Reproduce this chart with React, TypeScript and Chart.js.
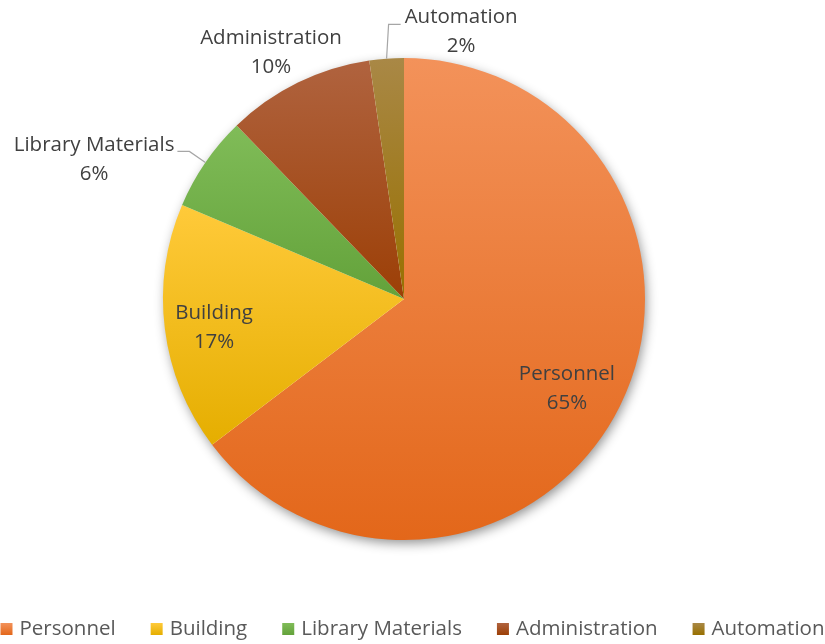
import React, { useEffect, useRef } from "react";
import { Chart, registerables } from "chart.js";

Chart.register(...registerables);

const categories = ["Personnel", "Building", "Library Materials", "Administration", "Automation"];
const values = [64.6, 16.7, 6.4, 9.9, 2.3];
const topColors = ["#F3925A", "#FFCA3A", "#80BC58", "#B0633F", "#A98846"];
const bottomColors = ["#E3671A", "#E5AE00", "#63A23A", "#9C3F06", "#987000"];
const baseColors = ["#ED7D31", "#FFC000", "#70AD47", "#9E480E", "#997300"];

// label placement, in units of the pie radius relative to its center
const labelOffsets: [number, number][] = [
  [0.676, 0.373],
  [-0.788, 0.12],
  [-1.286, -0.577],
  [-0.552, -1.021],
  [0.237, -1.108],
];
const leaderLines = ["none", "none", "side", "none", "up"];

const FONT = "'Open Sans', 'Liberation Sans', Arial, sans-serif";
const LABEL_SIZE = 20.5;
const LEGEND_SIZE = 20.5;

export default function App() {
  const ref = useRef<HTMLCanvasElement>(null);
  useEffect(() => {
    document.body.style.margin = "0";
    const canvas = ref.current!;
    const total = values.reduce((a, b) => a + b, 0);

    const sliceBounds = (i: number, cx: number, cy: number, r: number) => {
      let start = -Math.PI / 2;
      for (let k = 0; k < i; k++) start += (values[k] / total) * Math.PI * 2;
      const end = start + (values[i] / total) * Math.PI * 2;
      const ys = [cy, cy + r * Math.sin(start), cy + r * Math.sin(end)];
      for (let a = -Math.PI / 2; a < Math.PI * 4; a += Math.PI / 2) {
        if (a >= start && a <= end) ys.push(cy + r * Math.sin(a));
      }
      return { top: Math.min(...ys), bottom: Math.max(...ys), mid: (start + end) / 2 };
    };

    const geo = (chart: any) => {
      const meta = chart.getDatasetMeta(0);
      const arc = meta.data[0] as any;
      return { cx: arc.x, cy: arc.y, r: arc.outerRadius };
    };

    const shadowPlugin = {
      id: "shadow",
      beforeDatasetsDraw(chart: any) {
        const { cx, cy, r } = geo(chart);
        const ctx = chart.ctx;
        ctx.save();
        ctx.shadowColor = "rgba(0,0,0,0.45)";
        ctx.shadowBlur = 12;
        ctx.shadowOffsetX = 2;
        ctx.shadowOffsetY = 4;
        ctx.fillStyle = "#ffffff";
        ctx.beginPath();
        ctx.arc(cx, cy, r - 1, 0, Math.PI * 2);
        ctx.fill();
        ctx.restore();
      },
    };

    const labelPlugin = {
      id: "labels",
      afterDraw(chart: any) {
        const { cx, cy, r } = geo(chart);
        const ctx = chart.ctx;
        ctx.save();
        ctx.font = `${LABEL_SIZE}px ${FONT}`;
        ctx.textAlign = "center";
        ctx.textBaseline = "middle";
        const lh = 29;
        categories.forEach((name, i) => {
          const lx = cx + labelOffsets[i][0] * r;
          const ly = cy + labelOffsets[i][1] * r;
          const pct = Math.round((values[i] / total) * 100) + "%";
          ctx.fillStyle = "#404040";
          ctx.fillText(name, lx, ly - lh / 2);
          ctx.fillText(pct, lx, ly + lh / 2);
          if (leaderLines[i] !== "none") {
            const b = sliceBounds(i, cx, cy, r);
            const ex = cx + r * Math.cos(b.mid);
            const ey = cy + r * Math.sin(b.mid);
            const w = ctx.measureText(name).width;
            ctx.strokeStyle = "#A6A6A6";
            ctx.lineWidth = 1.2;
            ctx.beginPath();
            if (leaderLines[i] === "up") {
              const lineY = ly - lh / 2 + 7;
              const sx = lx - w / 2 - 4;
              ctx.moveTo(ex, ey);
              ctx.lineTo(ex + 2, lineY);
              ctx.lineTo(sx, lineY);
            } else {
              const lineY = ly - lh / 2 + 6;
              const sx = lx + w / 2 + 3;
              ctx.moveTo(sx, lineY);
              ctx.lineTo(sx + 12, lineY);
              ctx.lineTo(ex, ey);
            }
            ctx.stroke();
          }
        });

        // legend
        ctx.font = `${LEGEND_SIZE}px ${FONT}`;
        ctx.textAlign = "left";
        const box = 12;
        const gapBox = 7;
        const spacing = 35;
        const widths = categories.map((c) => box + gapBox + ctx.measureText(c).width);
        const totalW = widths.reduce((a, b) => a + b, 0) + spacing * (categories.length - 1);
        let x = chart.width / 2 - totalW / 2;
        const y = 629;
        categories.forEach((c, i) => {
          const g = ctx.createLinearGradient(0, y - box / 2, 0, y + box / 2);
          g.addColorStop(0, topColors[i]);
          g.addColorStop(1, bottomColors[i]);
          ctx.fillStyle = g;
          ctx.fillRect(x, y - box / 2, box, box);
          ctx.fillStyle = "#595959";
          ctx.fillText(c, x + box + gapBox, y);
          x += widths[i] + spacing;
        });
        ctx.restore();
      },
    };

    const chart = new Chart(canvas, {
      type: "pie",
      data: {
        labels: categories,
        datasets: [
          {
            data: values,
            borderWidth: 0,
            backgroundColor: (c: any) => {
              const ch = c.chart;
              const area = ch.chartArea;
              if (!area) return baseColors[c.dataIndex];
              const cx = (area.left + area.right) / 2;
              const cy = (area.top + area.bottom) / 2;
              const r = Math.min(area.right - area.left, area.bottom - area.top) / 2;
              const b = sliceBounds(c.dataIndex, cx, cy, r);
              const g = ch.ctx.createLinearGradient(0, b.top, 0, b.bottom);
              g.addColorStop(0, topColors[c.dataIndex]);
              g.addColorStop(1, bottomColors[c.dataIndex]);
              return g;
            },
          },
        ],
      },
      options: {
        animation: false,
        responsive: false,
        maintainAspectRatio: false,
        layout: { padding: { left: 163, right: 180, top: 58, bottom: 104 } },
        plugins: {
          legend: { display: false },
          tooltip: { enabled: false },
        },
      },
      plugins: [shadowPlugin, labelPlugin],
    });
    return () => chart.destroy();
  }, []);
  return (
    <div style={{ position: "absolute", left: 0, top: 0, width: 825, height: 644, background: "#fff" }}>
      <canvas ref={ref} width={825} height={644} style={{ width: 825, height: 644, display: "block" }} />
    </div>
  );
}
